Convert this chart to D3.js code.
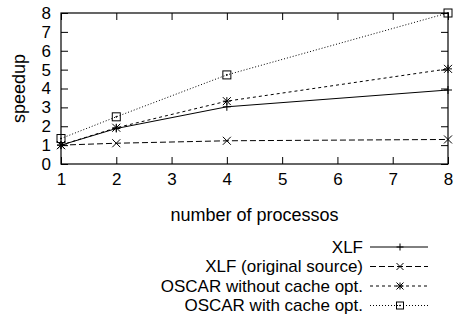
<!DOCTYPE html>
<html>
<head>
<meta charset="utf-8">
<script src="https://cdn.jsdelivr.net/npm/d3@7"></script>
<style>
  body { margin: 0; background: #fff; }
  text { font-family: "Liberation Sans", Arial, sans-serif; }
</style>
</head>
<body>
<div id="chart"></div>
<script>
const processors = [1, 2, 4, 8];
const xlf = [1.0, 1.88, 3.03, 3.92];
const xlfOriginal = [1.0, 1.1, 1.23, 1.3];
const oscarNoCache = [1.0, 1.92, 3.33, 5.04];
const oscarCache = [1.35, 2.5, 4.72, 8.0];
const seriesNames = ["XLF", "XLF (original source)", "OSCAR without cache opt.", "OSCAR with cache opt."];
const xTicks = [1, 2, 3, 4, 5, 6, 7, 8];
const yTicks = [0, 1, 2, 3, 4, 5, 6, 7, 8];

const width = 456;
const height = 316;
const margin = { top: 13, left: 61, bottom: 152, right: 8 };
const plotWidth = width - margin.left - margin.right;
const plotHeight = height - margin.top - margin.bottom;

const series = [
  { name: seriesNames[0], values: xlf, dash: null, marker: "plus" },
  { name: seriesNames[1], values: xlfOriginal, dash: "6,3", marker: "cross" },
  { name: seriesNames[2], values: oscarNoCache, dash: "3,3", marker: "star" },
  { name: seriesNames[3], values: oscarCache, dash: "1,2", marker: "square" }
];

const xScale = d3.scaleLinear().domain([1, 8]).range([0, plotWidth]);
const yScale = d3.scaleLinear().domain([0, 8]).range([plotHeight, 0]);

const svg = d3.select("#chart")
  .append("svg")
  .attr("width", width)
  .attr("height", height);

const plotG = svg.append("g")
  .attr("transform", `translate(${margin.left},${margin.top})`);

// axes, ticks pointing inward
const xAxis = d3.axisBottom(xScale).tickValues(xTicks).tickSize(-7).tickPadding(9).tickFormat(d3.format("d"));
const yAxis = d3.axisLeft(yScale).tickValues(yTicks).tickSize(-7).tickPadding(10).tickFormat(d3.format("d"));
const xAxisTop = d3.axisTop(xScale).tickValues(xTicks).tickSize(-7).tickFormat("");
const yAxisRight = d3.axisRight(yScale).tickValues(yTicks).tickSize(-7).tickFormat("");

function styleAxis(g) {
  g.select(".domain").remove();
  g.selectAll(".tick line").attr("stroke", "#000");
  g.selectAll("text").attr("font-size", 17).attr("fill", "#000");
}

plotG.append("g").attr("transform", `translate(0,${plotHeight})`).call(xAxis).call(styleAxis);
plotG.append("g").call(yAxis).call(styleAxis);
plotG.append("g").call(xAxisTop).call(styleAxis);
plotG.append("g").attr("transform", `translate(${plotWidth},0)`).call(yAxisRight).call(styleAxis);

plotG.append("rect")
  .attr("width", plotWidth)
  .attr("height", plotHeight)
  .attr("fill", "none")
  .attr("stroke", "#000")
  .attr("stroke-width", 1.2);

function drawMarker(g, type, x, y, s) {
  if (type === "plus") {
    g.append("path").attr("d", `M${x - s},${y}H${x + s}M${x},${y - s}V${y + s}`);
  } else if (type === "cross") {
    g.append("path").attr("d", `M${x - s},${y - s}L${x + s},${y + s}M${x - s},${y + s}L${x + s},${y - s}`);
  } else if (type === "star") {
    g.append("path").attr("d", `M${x - s},${y}H${x + s}M${x},${y - s}V${y + s}M${x - s},${y - s}L${x + s},${y + s}M${x - s},${y + s}L${x + s},${y - s}`);
  } else if (type === "square") {
    g.append("rect").attr("x", x - s).attr("y", y - s).attr("width", 2 * s).attr("height", 2 * s)
      .attr("fill", "none");
    g.append("circle").attr("cx", x).attr("cy", y).attr("r", 0.5).attr("fill", "#000");
  }
}

const line = d3.line()
  .x((d, i) => xScale(processors[i]))
  .y(d => yScale(d));

series.forEach(s => {
  plotG.append("path")
    .datum(s.values)
    .attr("d", line)
    .attr("fill", "none")
    .attr("stroke", "#000")
    .attr("stroke-width", 1)
    .attr("stroke-dasharray", s.dash);

  const mg = plotG.append("g").attr("stroke", "#000").attr("stroke-width", 1);
  s.values.forEach((v, i) => drawMarker(mg, s.marker, xScale(processors[i]), yScale(v), 4));
});

// axis titles
svg.append("text")
  .attr("x", margin.left + plotWidth / 2)
  .attr("y", 221)
  .attr("text-anchor", "middle")
  .attr("font-size", 18)
  .text("number of processos");

svg.append("text")
  .attr("transform", `translate(25,${margin.top + plotHeight / 2}) rotate(-90)`)
  .attr("text-anchor", "middle")
  .attr("font-size", 18)
  .text("speedup");

// legend
const legend = svg.append("g");
series.forEach((s, i) => {
  const y = 247 + i * 19.5;
  legend.append("text")
    .attr("x", 363)
    .attr("y", y)
    .attr("dy", "0.35em")
    .attr("text-anchor", "end")
    .attr("font-size", 17)
    .text(s.name);
  legend.append("line")
    .attr("x1", 370).attr("x2", 428)
    .attr("y1", y).attr("y2", y)
    .attr("stroke", "#000")
    .attr("stroke-dasharray", s.dash);
  const mg = legend.append("g").attr("stroke", "#000").attr("stroke-width", 1);
  drawMarker(mg, s.marker, 400, y, 3.5);
});
</script>
</body>
</html>
